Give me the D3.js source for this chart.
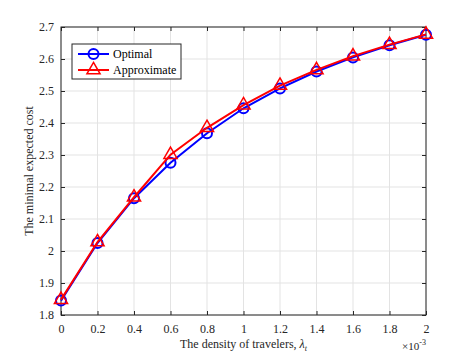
<!DOCTYPE html>
<html>
<head>
<meta charset="utf-8">
<script src="https://cdn.jsdelivr.net/npm/d3@7"></script>
<style>
  body { margin: 0; background: #fff; }
  svg text { font-family: 'Liberation Serif', 'DejaVu Serif', serif !important; }
</style>
</head>
<body>
<svg id="chart" width="471" height="356"></svg>
<script>
const density = [0, 0.2, 0.4, 0.6, 0.8, 1.0, 1.2, 1.4, 1.6, 1.8, 2.0]
const optimal = [1.845, 2.025, 2.165, 2.276, 2.368, 2.446, 2.508, 2.561, 2.605, 2.643, 2.676]
const approximate = [1.848, 2.028, 2.168, 2.301, 2.385, 2.456, 2.517, 2.566, 2.609, 2.645, 2.677]
const xTicks = [0, 0.2, 0.4, 0.6, 0.8, 1, 1.2, 1.4, 1.6, 1.8, 2]
const yTicks = [1.8, 1.9, 2, 2.1, 2.2, 2.3, 2.4, 2.5, 2.6, 2.7]

const svg = d3.select('#chart')
const margin = { top: 27, right: 45, bottom: 41, left: 61 }
const width = +svg.attr('width') - margin.left - margin.right
const height = +svg.attr('height') - margin.top - margin.bottom
const g = svg.append('g').attr('transform', `translate(${margin.left},${margin.top})`)

const x = d3.scaleLinear().domain([0, 2]).range([0, width])
const y = d3.scaleLinear().domain([1.8, 2.7]).range([height, 0])

// grid
g.append('g').selectAll('line').data(xTicks).join('line')
    .attr('x1', d => x(d)).attr('x2', d => x(d))
    .attr('y1', 0).attr('y2', height)
    .attr('stroke', '#e3e3e3').attr('stroke-width', 1)
g.append('g').selectAll('line').data(yTicks).join('line')
    .attr('y1', d => y(d)).attr('y2', d => y(d))
    .attr('x1', 0).attr('x2', width)
    .attr('stroke', '#e3e3e3').attr('stroke-width', 1)

// axes (ticks inward)
const fmt = d => String(d)
const axisStyle = sel => {
    sel.attr('font-family', null)
    sel.select('.domain').remove()
    sel.selectAll('line').attr('stroke', '#262626')
    sel.selectAll('text').attr('fill', '#262626').style('font-size', '12px')
}
g.append('g').attr('transform', `translate(0,${height})`)
    .call(d3.axisBottom(x).tickValues(xTicks).tickFormat(fmt).tickSizeInner(-4).tickSizeOuter(0).tickPadding(9))
    .call(axisStyle)
g.append('g').attr('transform', 'translate(0,0)')
    .call(d3.axisTop(x).tickValues(xTicks).tickFormat('').tickSizeInner(-4).tickSizeOuter(0))
    .call(axisStyle)
g.append('g')
    .call(d3.axisLeft(y).tickValues(yTicks).tickFormat(fmt).tickSizeInner(-4).tickSizeOuter(0).tickPadding(7))
    .call(axisStyle)
g.append('g').attr('transform', `translate(${width},0)`)
    .call(d3.axisRight(y).tickValues(yTicks).tickFormat('').tickSizeInner(-4).tickSizeOuter(0))
    .call(axisStyle)

// box
g.append('rect').attr('width', width).attr('height', height)
    .attr('fill', 'none').attr('stroke', '#262626').attr('stroke-width', 1)

// series
const line = d3.line().x(d => x(d[0])).y(d => y(d[1]))
const optData = density.map((d, i) => [d, optimal[i]])
const appData = density.map((d, i) => [d, approximate[i]])

g.append('path').datum(optData).attr('d', line)
    .attr('fill', 'none').attr('stroke', '#0000ff').attr('stroke-width', 2)
g.append('g').selectAll('circle').data(optData).join('circle')
    .attr('cx', d => x(d[0])).attr('cy', d => y(d[1])).attr('r', 5)
    .attr('fill', 'none').attr('stroke', '#0000ff').attr('stroke-width', 2)

const tri = d3.symbol().type(d3.symbolTriangle).size(75)
g.append('path').datum(appData).attr('d', line)
    .attr('fill', 'none').attr('stroke', '#ff0000').attr('stroke-width', 2)
g.append('g').selectAll('path').data(appData).join('path')
    .attr('d', tri)
    .attr('transform', d => `translate(${x(d[0])},${y(d[1])})`)
    .attr('fill', 'none').attr('stroke', '#ff0000').attr('stroke-width', 1.5)

// legend
const lg = g.append('g').attr('transform', 'translate(11,17)')
lg.append('rect').attr('width', 109).attr('height', 35)
    .attr('fill', '#fff').attr('stroke', '#262626').attr('stroke-width', 1)
const legendItems = [
    { name: 'Optimal', color: '#0000ff', shape: 'circle' },
    { name: 'Approximate', color: '#ff0000', shape: 'triangle' }
]
legendItems.forEach((item, i) => {
    const ly = 10 + i * 16
    lg.append('line').attr('x1', 6).attr('x2', 37).attr('y1', ly).attr('y2', ly)
        .attr('stroke', item.color).attr('stroke-width', 2)
    if (item.shape === 'circle') {
        lg.append('circle').attr('cx', 21.5).attr('cy', ly).attr('r', 5)
            .attr('fill', 'none').attr('stroke', item.color).attr('stroke-width', 2)
    } else {
        lg.append('path').attr('d', tri).attr('transform', `translate(21.5,${ly})`)
            .attr('fill', 'none').attr('stroke', item.color).attr('stroke-width', 1.5)
    }
    lg.append('text').attr('x', 41).attr('y', ly + 4)
        .attr('fill', '#000').style('font-size', '12px').text(item.name)
})

// axis labels
const xl = svg.append('text')
    .attr('x', margin.left + width / 2).attr('y', 348)
    .attr('text-anchor', 'middle').attr('fill', '#262626').style('font-size', '12px')
xl.append('tspan').text('The density of travelers, ')
xl.append('tspan').style('font-style', 'italic').text('λ')
xl.append('tspan').style('font-style', 'italic').style('font-size', '8px').attr('dy', 3).text('t')

svg.append('text')
    .attr('transform', `translate(33,${margin.top + height / 2}) rotate(-90)`)
    .attr('text-anchor', 'middle').attr('fill', '#262626').style('font-size', '12px')
    .text('The minimal expected cost')

const ex = svg.append('text')
    .attr('x', margin.left + width).attr('y', 350)
    .attr('text-anchor', 'end').attr('fill', '#262626').style('font-size', '11px')
ex.append('tspan').text('×10')
ex.append('tspan').attr('dy', -5).style('font-size', '8px').text('-3')
</script>
</body>
</html>
